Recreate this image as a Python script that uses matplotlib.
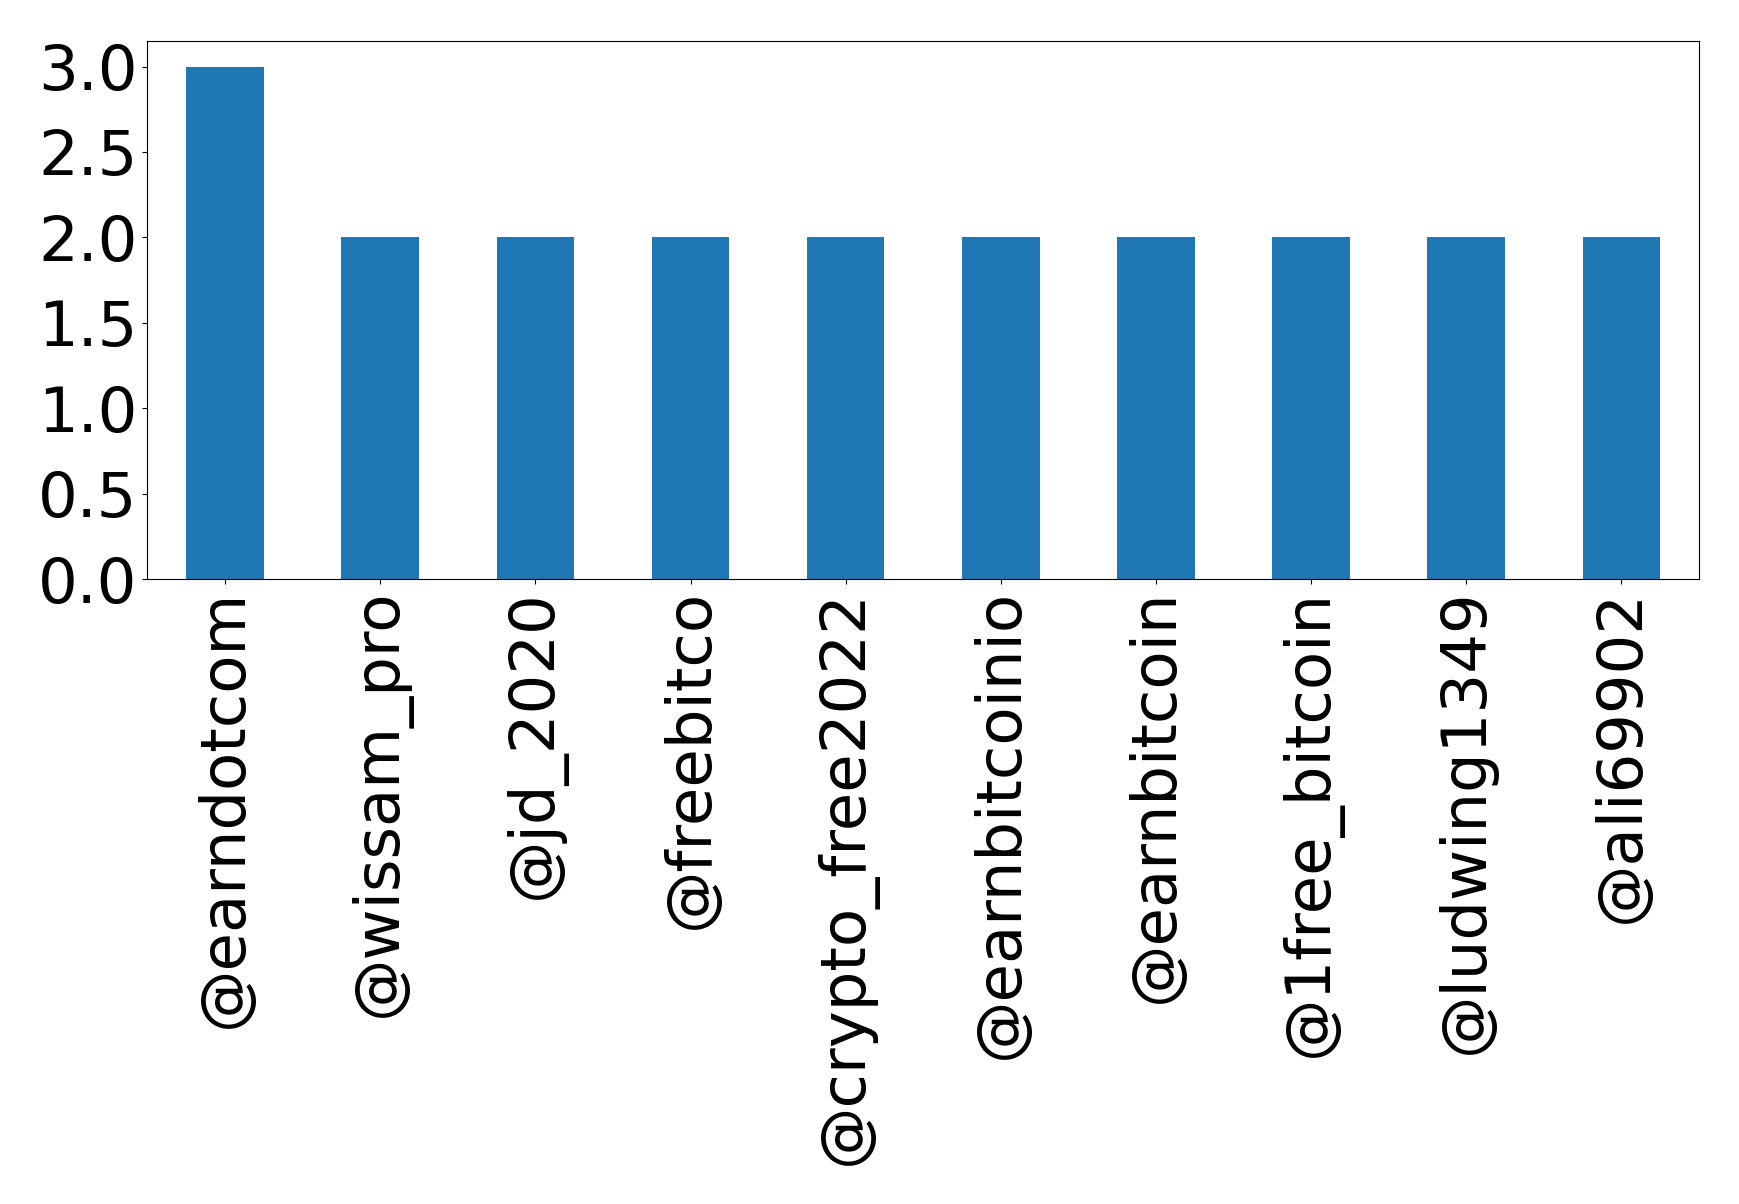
import matplotlib
matplotlib.use("Agg")
import matplotlib.pyplot as plt

users = ["@earndotcom", "@wissam_pro", "@jd_2020", "@freebitco", "@crypto_free2022",
         "@earnbitcoinio", "@earnbitcoin", "@1free_bitcoin", "@ludwing1349", "@ali69902"]
counts = [3, 2, 2, 2, 2, 2, 2, 2, 2, 2]

fig = plt.figure(figsize=(17.39, 12.04), dpi=100)
ax = fig.add_axes([0.0848, 0.519, 0.977 - 0.0848, 0.966 - 0.519])
x = range(len(users))
ax.bar(x, counts, width=0.5, color="#1f77b4")
ax.set_xlim(-0.5, len(users) - 0.5)
ax.set_ylim(0, 3.15)
ax.set_xticks(list(x))
ax.set_xticklabels(users, rotation=90, fontsize=45)
ax.set_yticks([0.0, 0.5, 1.0, 1.5, 2.0, 2.5, 3.0])
ax.set_yticklabels(["0.0", "0.5", "1.0", "1.5", "2.0", "2.5", "3.0"], fontsize=45)
fig.savefig("out.png", dpi=100)
